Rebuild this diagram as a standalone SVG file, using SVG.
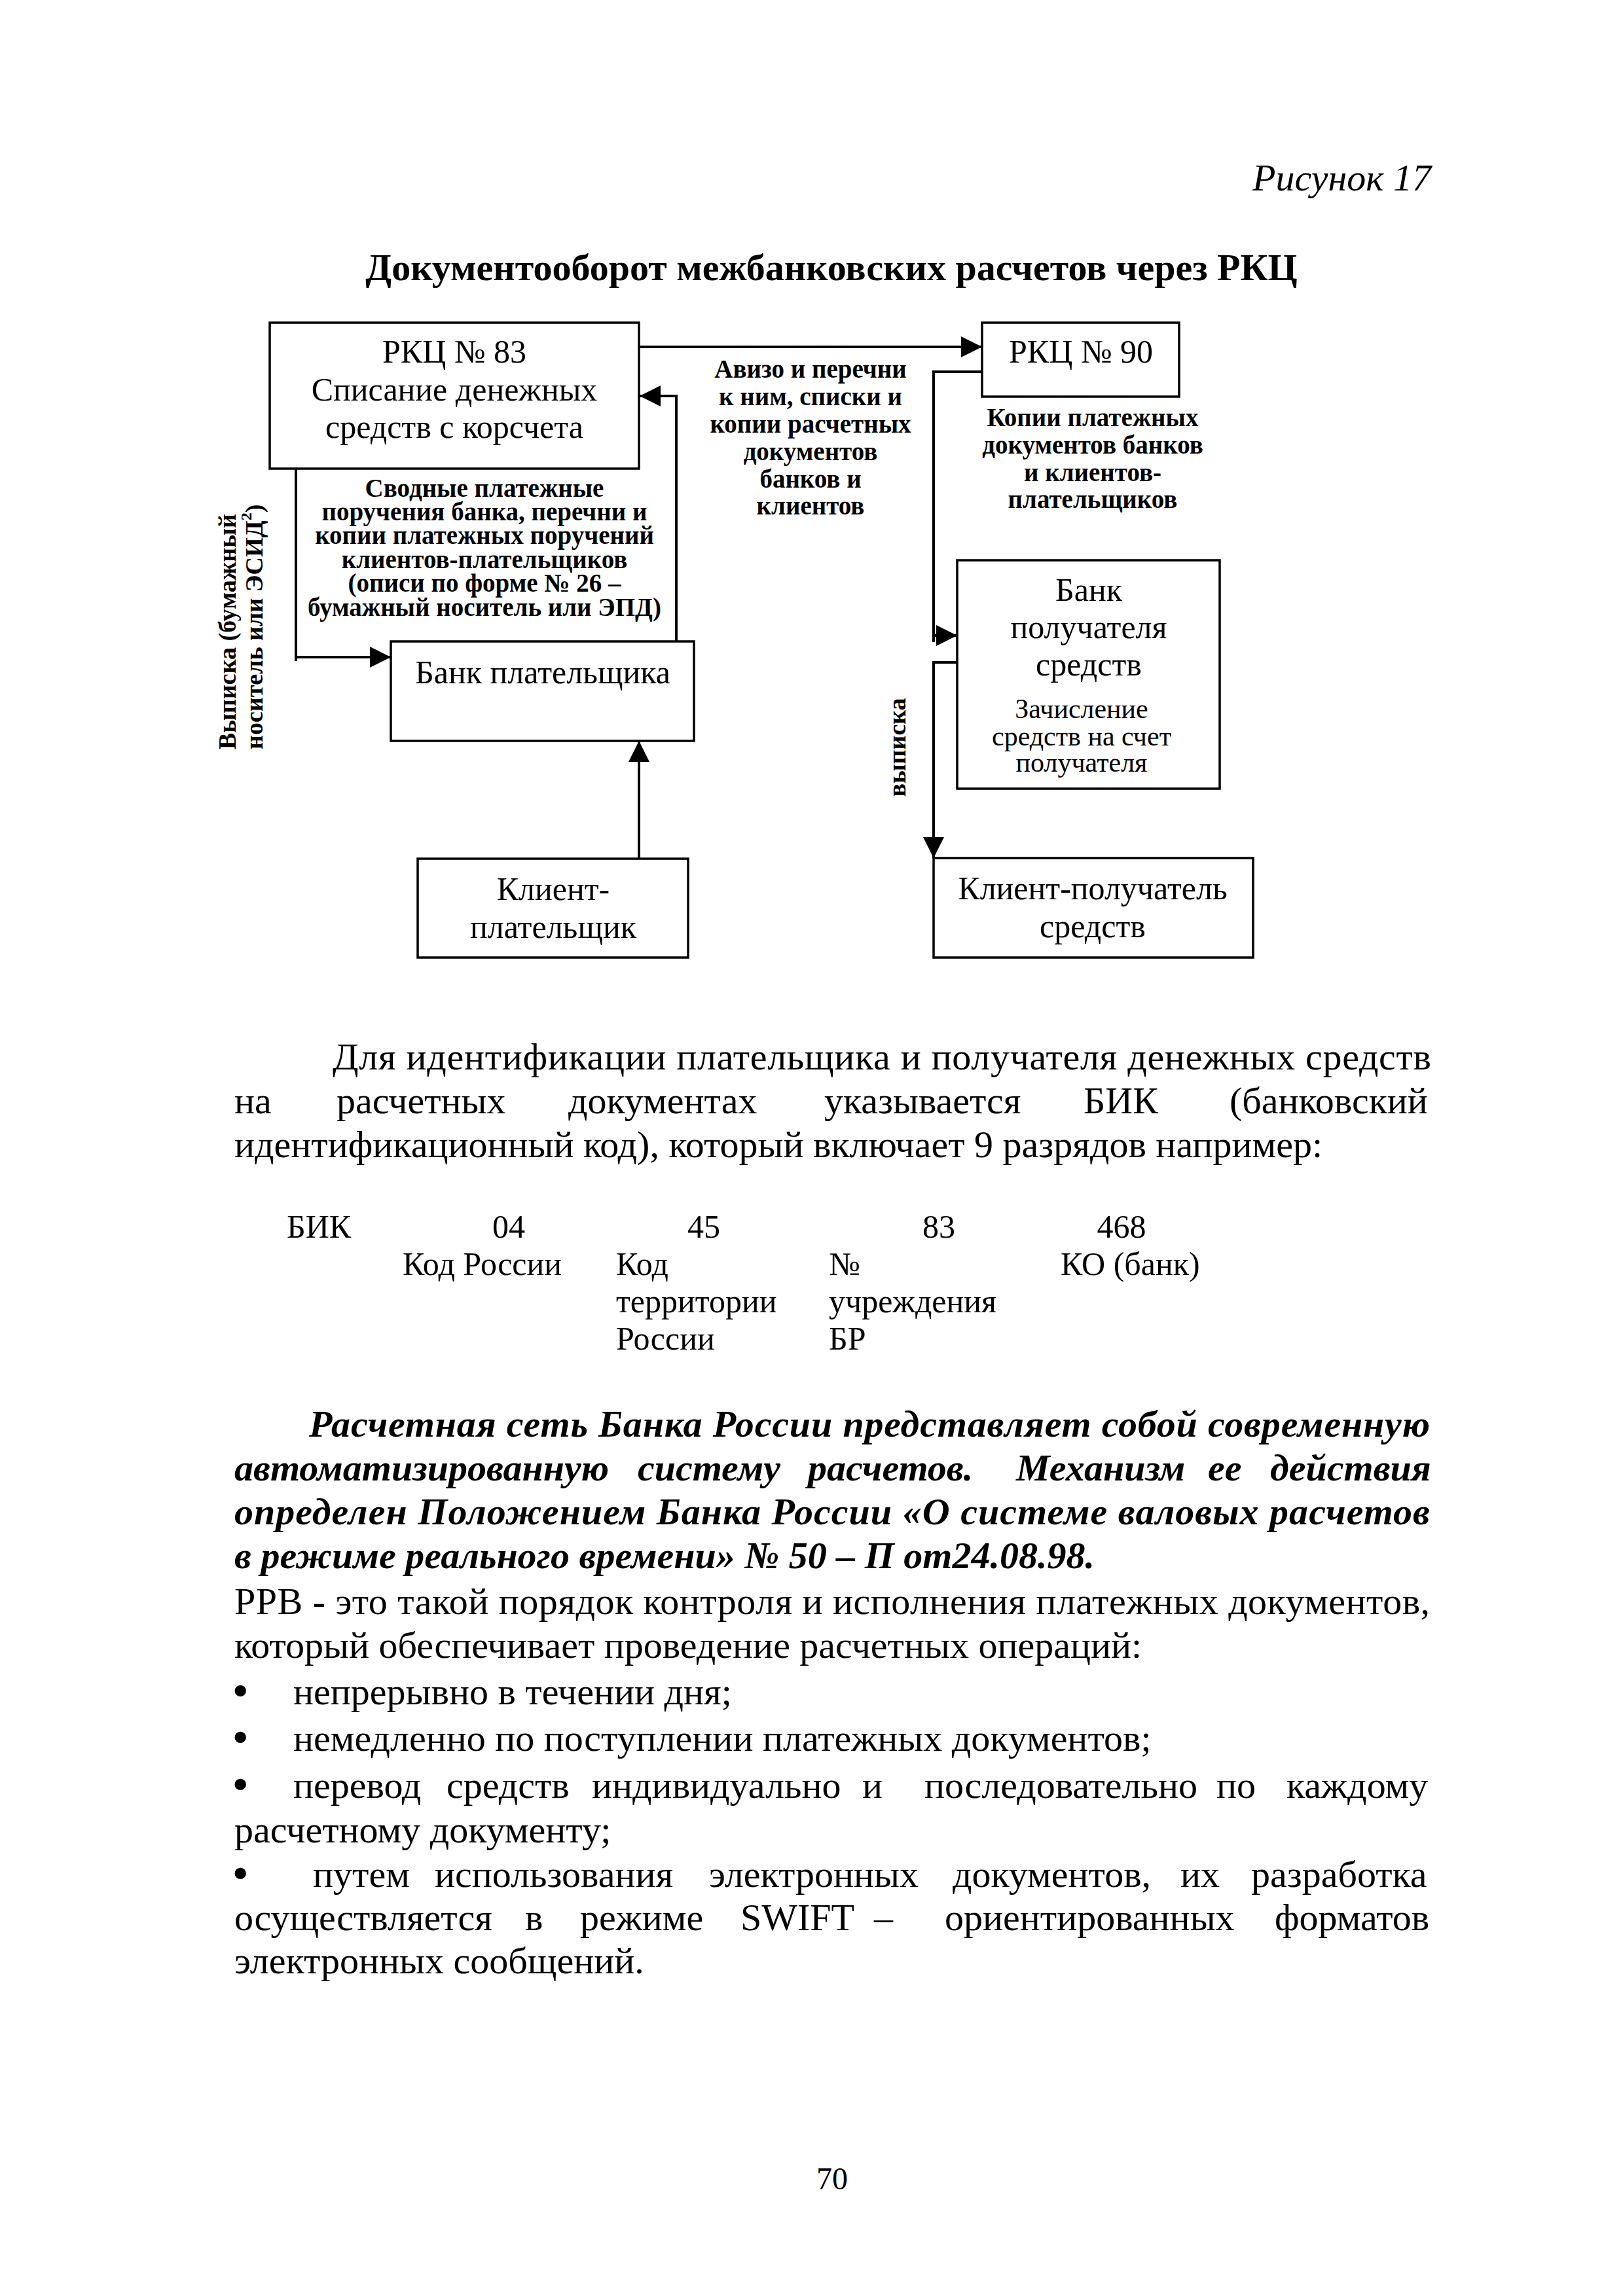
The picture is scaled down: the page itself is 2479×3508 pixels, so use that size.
<svg xmlns="http://www.w3.org/2000/svg" width="2479" height="3508" viewBox="0 0 2479 3508">
<style>
text{font-family:"Liberation Serif","Times New Roman",serif;fill:#000}
.box{fill:none;stroke:#000;stroke-width:3.5}
.ln{fill:none;stroke:#000;stroke-width:4}
.n50{font-size:50px;text-anchor:middle}
.n42{font-size:42px;text-anchor:middle}
.lb{font-size:39px;font-weight:bold;text-anchor:middle}
.rb{font-size:38px;font-weight:bold}
.body{font-size:58px}
.bi{font-size:58px;font-weight:bold;font-style:italic}
.bik{font-size:50px}
.bul{font-size:64px;font-weight:bold}
</style>
<defs>
<marker id="ah" markerUnits="userSpaceOnUse" markerWidth="32" markerHeight="32" refX="32" refY="16" orient="auto" viewBox="0 0 32 32"><path d="M0,0 L32,16 L0,32 z" fill="#000"/></marker>
</defs>
<rect width="2479" height="3508" fill="#fff"/>

<text x="2186" y="291" class="body" font-style="italic" text-anchor="end">Рисунок 17</text>
<text x="1270" y="428" class="body" font-weight="bold" text-anchor="middle">Документооборот межбанковских расчетов через РКЦ</text>

<g id="connectors">
<path class="ln" d="M976,530 H1500" marker-end="url(#ah)"/>
<path class="ln" d="M1033,980 V605 H977" marker-end="url(#ah)"/>
<path class="ln" d="M452,716 V1010 M452,1004 H597" marker-end="url(#ah)"/>
<path class="ln" d="M1500,568 H1426 V981 M1426,971 H1462" marker-end="url(#ah)"/>
<path class="ln" d="M1462,1012 H1426 V1311" marker-end="url(#ah)"/>
<path class="ln" d="M976,1312 V1132" marker-end="url(#ah)"/>
</g>

<g id="labels">
<text class="lb"><tspan x="740" y="759">Сводные платежные</tspan><tspan x="740" y="795">поручения банка, перечни и</tspan><tspan x="740" y="831">копии платежных поручений</tspan><tspan x="740" y="868">клиентов-плательщиков</tspan><tspan x="740" y="904">(описи по форме № 26 –</tspan><tspan x="740" y="941">бумажный носитель или ЭПД)</tspan></text>
<text class="lb"><tspan x="1238" y="577">Авизо и перечни</tspan><tspan x="1238" y="619">к ним, списки и</tspan><tspan x="1238" y="661">копии расчетных</tspan><tspan x="1238" y="703">документов</tspan><tspan x="1238" y="745">банков и</tspan><tspan x="1238" y="786">клиентов</tspan></text>
<text class="lb"><tspan x="1669" y="651">Копии платежных</tspan><tspan x="1669" y="693">документов банков</tspan><tspan x="1669" y="735">и клиентов-</tspan><tspan x="1669" y="776">плательщиков</tspan></text>
<text class="rb" transform="translate(360,1145) rotate(-90)">Выписка (бумажный</text>
<text class="rb" transform="translate(401,1145) rotate(-90)">носитель или ЭСИД<tspan font-size="24" dy="-17">2</tspan><tspan dy="17">)</tspan></text>
<text class="rb" text-anchor="middle" transform="translate(1383,1142) rotate(-90)">выписка</text>
</g>

<g id="rkc83">
<rect class="box" x="412" y="493" width="564" height="223"/>
<text class="n50"><tspan x="694" y="554">РКЦ № 83</tspan><tspan x="694" y="612">Списание денежных</tspan><tspan x="694" y="669">средств с корсчета</tspan></text>
</g>
<g id="rkc90">
<rect class="box" x="1500" y="493" width="301" height="113"/>
<text class="n50" x="1651" y="554">РКЦ № 90</text>
</g>
<g id="bank-payer">
<rect class="box" x="597" y="980" width="463" height="152"/>
<text class="n50" x="829" y="1044">Банк плательщика</text>
</g>
<g id="client-payer">
<rect class="box" x="638" y="1312" width="413" height="151"/>
<text class="n50"><tspan x="845" y="1375">Клиент-</tspan><tspan x="845" y="1433">плательщик</tspan></text>
</g>
<g id="bank-recipient">
<rect class="box" x="1462" y="856" width="401" height="349"/>
<text class="n50"><tspan x="1663" y="918">Банк</tspan><tspan x="1663" y="975">получателя</tspan><tspan x="1663" y="1032">средств</tspan></text>
<text class="n42"><tspan x="1652" y="1097">Зачисление</tspan><tspan x="1652" y="1139">средств на счет</tspan><tspan x="1652" y="1179">получателя</tspan></text>
</g>
<g id="client-recipient">
<rect class="box" x="1426" y="1311" width="488" height="152"/>
<text class="n50"><tspan x="1669" y="1374">Клиент-получатель</tspan><tspan x="1669" y="1432">средств</tspan></text>
</g>

<g id="body">
<text class="body" x="508" y="1634" textLength="1678">Для идентификации плательщика и получателя денежных средств</text>
<text class="body" y="1701"><tspan x="358">на</tspan><tspan x="514">расчетных</tspan><tspan x="868">документах</tspan><tspan x="1259">указывается</tspan><tspan x="1655">БИК</tspan><tspan x="1878">(банковский</tspan></text>
<text class="body" x="358" y="1768">идентификационный код), который включает 9 разрядов например:</text>

<text class="bik" x="438" y="1891">БИК</text>
<text class="bik" x="777" y="1891" text-anchor="middle">04</text>
<text class="bik" x="1075" y="1891" text-anchor="middle">45</text>
<text class="bik" x="1434" y="1891" text-anchor="middle">83</text>
<text class="bik" x="1713" y="1891" text-anchor="middle">468</text>
<text class="bik" x="615" y="1948">Код России</text>
<text class="bik"><tspan x="941" y="1948">Код</tspan><tspan x="941" y="2005">территории</tspan><tspan x="941" y="2062">России</tspan></text>
<text class="bik"><tspan x="1266" y="1948">№</tspan><tspan x="1266" y="2005">учреждения</tspan><tspan x="1266" y="2062">БР</tspan></text>
<text class="bik" x="1620" y="1948">КО (банк)</text>

<text class="bi" x="472" y="2195" textLength="1712">Расчетная сеть Банка России представляет собой современную</text>
<text class="bi" y="2262"><tspan x="358">автоматизированную</tspan><tspan x="974">систему</tspan><tspan x="1234">расчетов.</tspan><tspan x="1552">Механизм</tspan><tspan x="1845">ее</tspan><tspan x="1940">действия</tspan></text>
<text class="bi" x="358" y="2329" textLength="1826">определен Положением Банка России «О системе валовых расчетов</text>
<text class="bi" x="358" y="2396">в режиме реального времени» № 50 – П от24.08.98.</text>

<text class="body" x="358" y="2466" textLength="1826">РРВ - это такой порядок контроля и исполнения платежных документов,</text>
<text class="body" x="358" y="2533">который обеспечивает проведение расчетных операций:</text>

<text class="body" y="2604"><tspan class="bul" x="356">•</tspan><tspan x="448">непрерывно в течении дня;</tspan></text>
<text class="body" y="2675"><tspan class="bul" x="356">•</tspan><tspan x="448">немедленно по поступлении платежных документов;</tspan></text>
<text class="body" y="2747"><tspan class="bul" x="356">•</tspan><tspan x="448">перевод</tspan><tspan x="682">средств</tspan><tspan x="904">индивидуально</tspan><tspan x="1317">и</tspan><tspan x="1412">последовательно</tspan><tspan x="1858">по</tspan><tspan x="1965">каждому</tspan></text>
<text class="body" x="358" y="2815">расчетному документу;</text>
<text class="body" y="2883"><tspan class="bul" x="356">•</tspan><tspan x="478">путем</tspan><tspan x="664">использования</tspan><tspan x="1083">электронных</tspan><tspan x="1455">документов,</tspan><tspan x="1803">их</tspan><tspan x="1911">разработка</tspan></text>
<text class="body" y="2949"><tspan x="358">осуществляется</tspan><tspan x="802">в</tspan><tspan x="886">режиме</tspan><tspan x="1131">SWIFT</tspan><tspan x="1335">–</tspan><tspan x="1443">ориентированных</tspan><tspan x="1947">форматов</tspan></text>
<text class="body" x="358" y="3015">электронных сообщений.</text>

<text x="1271" y="3345" font-size="48" text-anchor="middle">70</text>
</g>
</svg>
